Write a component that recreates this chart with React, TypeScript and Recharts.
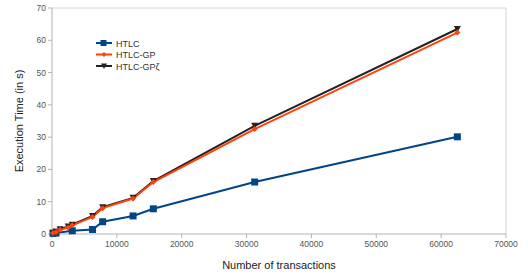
import React from 'react';
import { LineChart, Line, XAxis, YAxis, ReferenceLine, Legend } from 'recharts';

const htlcX = [156, 625, 3125, 6250, 7812, 12500, 15625, 31250, 62500];
const htlcY = [0.2, 0.3, 1.0, 1.4, 3.8, 5.6, 7.8, 16.1, 30.1];
const gpX = [156, 625, 1250, 2500, 3125, 6250, 7812, 12500, 15625, 31250, 62500];
const gpY = [0.3, 0.6, 1.3, 2.0, 2.7, 5.3, 8.0, 11.0, 16.1, 32.5, 62.4];
const gpzY = [0.4, 0.8, 1.5, 2.3, 2.9, 5.6, 8.3, 11.2, 16.4, 33.5, 63.5];
const xTicks = [0, 10000, 20000, 30000, 40000, 50000, 60000, 70000];
const yTicks = [0, 10, 20, 30, 40, 50, 60, 70];
const seriesNames = ['HTLC', 'HTLC-GP', 'HTLC-GPζ'];
const colors = ['#004586', '#ff420e', '#222222'];

const htlcData = htlcX.map((x, i) => ({ x, y: htlcY[i] }));
const gpData = gpX.map((x, i) => ({ x, y: gpY[i] }));
const gpzData = gpX.map((x, i) => ({ x, y: gpzY[i] }));

const Square = (props: any) => {
  const { cx, cy, key } = props;
  return <rect key={key} x={cx - 3.5} y={cy - 3.5} width={7} height={7} fill={colors[0]} />;
};
const Diamond = (props: any) => {
  const { cx, cy, key } = props;
  return <path key={key} d={`M${cx},${cy - 3} L${cx + 3},${cy} L${cx},${cy + 3} L${cx - 3},${cy} Z`} fill={colors[1]} />;
};
const Tri = (props: any) => {
  const { cx, cy, key } = props;
  return <path key={key} d={`M${cx - 3.5},${cy - 3} L${cx + 3.5},${cy - 3} L${cx},${cy + 3.5} Z`} fill={colors[2]} />;
};

const LegendContent = () => (
  <svg width={90} height={40} style={{ display: 'block' }}>
    {seriesNames.map((n, i) => {
      const y = 6 + i * 11.5;
      return (
        <g key={n}>
          <line x1={1} x2={17} y1={y} y2={y} stroke={colors[i]} strokeWidth={2} />
          {i === 0 && <rect x={5.5} y={y - 3} width={6} height={6} fill={colors[0]} />}
          {i === 1 && <path d={`M9,${y - 2.5} L11.5,${y} L9,${y + 2.5} L6.5,${y} Z`} fill={colors[1]} />}
          {i === 2 && <path d={`M6,${y - 2.5} L12,${y - 2.5} L9,${y + 3} Z`} fill={colors[2]} />}
          <text x={21} y={y + 3.5} fontSize={9} fill="#333" fontFamily="Liberation Sans, Arial, sans-serif">{n}</text>
        </g>
      );
    })}
  </svg>
);

export default function App() {
  const tickStyle = { fontSize: 8.5, fill: '#555', fontFamily: 'Liberation Sans, Arial, sans-serif' };
  return (
    <div style={{ position: 'absolute', left: 0, top: 0, width: 528, height: 278, background: '#fff' }}>
      <LineChart width={528} height={278} margin={{ top: 8, right: 22, bottom: 0, left: 0 }}>
        <XAxis
          type="number"
          dataKey="x"
          domain={[0, 70000]}
          ticks={xTicks}
          interval={0}
          tick={tickStyle}
          tickSize={4}
          tickMargin={3}
          height={44}
          stroke="#b3b3b3"
          allowDuplicatedCategory={false}
          label={{ value: 'Number of transactions', position: 'insideBottom', offset: 9, style: { fontSize: 11, fill: '#222', fontFamily: 'Liberation Sans, Arial, sans-serif' } }}
        />
        <YAxis
          type="number"
          dataKey="y"
          domain={[0, 70]}
          ticks={yTicks}
          interval={0}
          tick={tickStyle}
          tickSize={4}
          tickMargin={2}
          width={52}
          stroke="#b3b3b3"
          label={{ value: 'Execution Time (in s)', angle: -90, position: 'insideLeft', offset: 19, style: { fontSize: 11, fill: '#222', textAnchor: 'middle', fontFamily: 'Liberation Sans, Arial, sans-serif' } }}
        />
        <ReferenceLine y={70} stroke="#d4d4d4" />
        <ReferenceLine x={70000} stroke="#d4d4d4" />
        <Legend
          layout="vertical"
          align="center"
          verticalAlign="middle"
          content={LegendContent}
          wrapperStyle={{ left: 95, top: 37, width: 90, height: 40 }}
        />
        <Line data={htlcData} dataKey="y" name={seriesNames[0]} stroke={colors[0]} strokeWidth={2} dot={Square} isAnimationActive={false} />
        <Line data={gpzData} dataKey="y" name={seriesNames[2]} stroke={colors[2]} strokeWidth={2} dot={Tri} isAnimationActive={false} />
        <Line data={gpData} dataKey="y" name={seriesNames[1]} stroke={colors[1]} strokeWidth={2} dot={Diamond} isAnimationActive={false} />
      </LineChart>
    </div>
  );
}
